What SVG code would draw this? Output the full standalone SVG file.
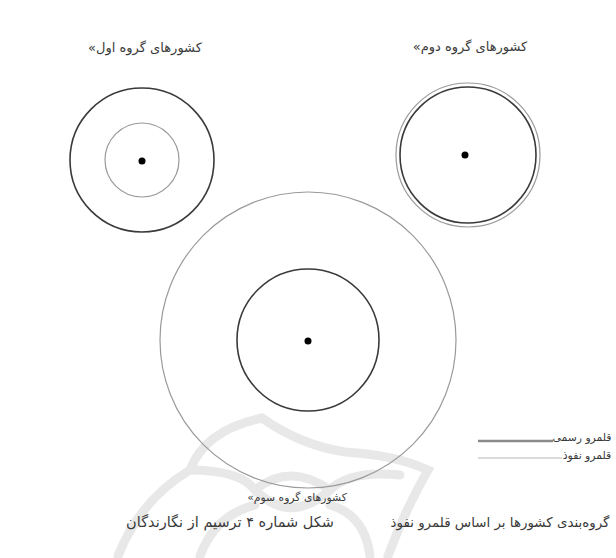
<svg xmlns="http://www.w3.org/2000/svg" width="616" height="558" viewBox="0 0 616 558">
<style>
.lbl{font-family:"DejaVu Sans",sans-serif;font-size:13px;fill:#3a3a3a;text-anchor:middle;}
.sm{font-size:10.8px;}
.cap{font-size:14.5px;}
.cap2{font-size:13.4px;}
.dark{fill:none;stroke:#3a3a3a;stroke-width:1.6;}
.light{fill:none;stroke:#9a9a9a;stroke-width:1.2;}
.dot{fill:#000;}
.wm{fill:none;stroke:#e8e8e8;stroke-width:9;stroke-linecap:round;}
</style>
<rect width="616" height="558" fill="#ffffff"/>
<g id="watermark">
<path class="wm" d="M118,556 Q140,500 190,470 Q205,430 262,418 Q300,445 345,452 Q395,455 428,470 Q405,510 388,556"/>
<path class="wm" d="M190,470 Q240,470 255,490 Q290,462 330,490 Q350,470 400,475"/>
<path class="wm" d="M255,490 Q290,525 330,490"/>
<path class="wm" d="M200,556 Q215,515 255,505 M330,505 Q365,515 370,556"/>
</g>
<g id="connectors"></g>
<g id="group1">
<circle class="dark" cx="142" cy="160" r="72"/>
<circle class="light" cx="142" cy="160" r="37"/>
<circle class="dot" cx="142" cy="161" r="3.5"/>
<text class="lbl" x="145" y="52">«کشورهای گروه اول</text>
</g>
<g id="group2">
<circle class="light" cx="468" cy="155" r="72"/>
<circle class="dark" cx="468" cy="155" r="68"/>
<circle class="dot" cx="465" cy="155" r="3.5"/>
<text class="lbl" x="470" y="51">«کشورهای گروه دوم</text>
</g>
<g id="group3">
<circle class="light" cx="308" cy="340" r="148"/>
<circle class="dark" cx="308" cy="340" r="71"/>
<circle class="dot" cx="308" cy="341" r="3.5"/>
<text class="lbl sm" x="297" y="501">«کشورهای گروه سوم</text>
</g>
<g id="legend">
<line x1="478" y1="441" x2="553" y2="441" stroke="#8a8a8a" stroke-width="2.5"/>
<text class="lbl sm" x="582" y="441">قلمرو رسمی</text>
<line x1="478" y1="458" x2="562" y2="458" stroke="#cfcfcf" stroke-width="1.5"/>
<text class="lbl sm" x="587" y="459">قلمرو نفوذ</text>
</g>
<g id="caption">
<text class="lbl cap" x="230" y="527">شکل شماره ۴ ترسیم از نگارندگان</text>
<text class="lbl cap2" x="500" y="527">گروه‌بندی کشورها بر اساس قلمرو نفوذ</text>
</g>
</svg>
